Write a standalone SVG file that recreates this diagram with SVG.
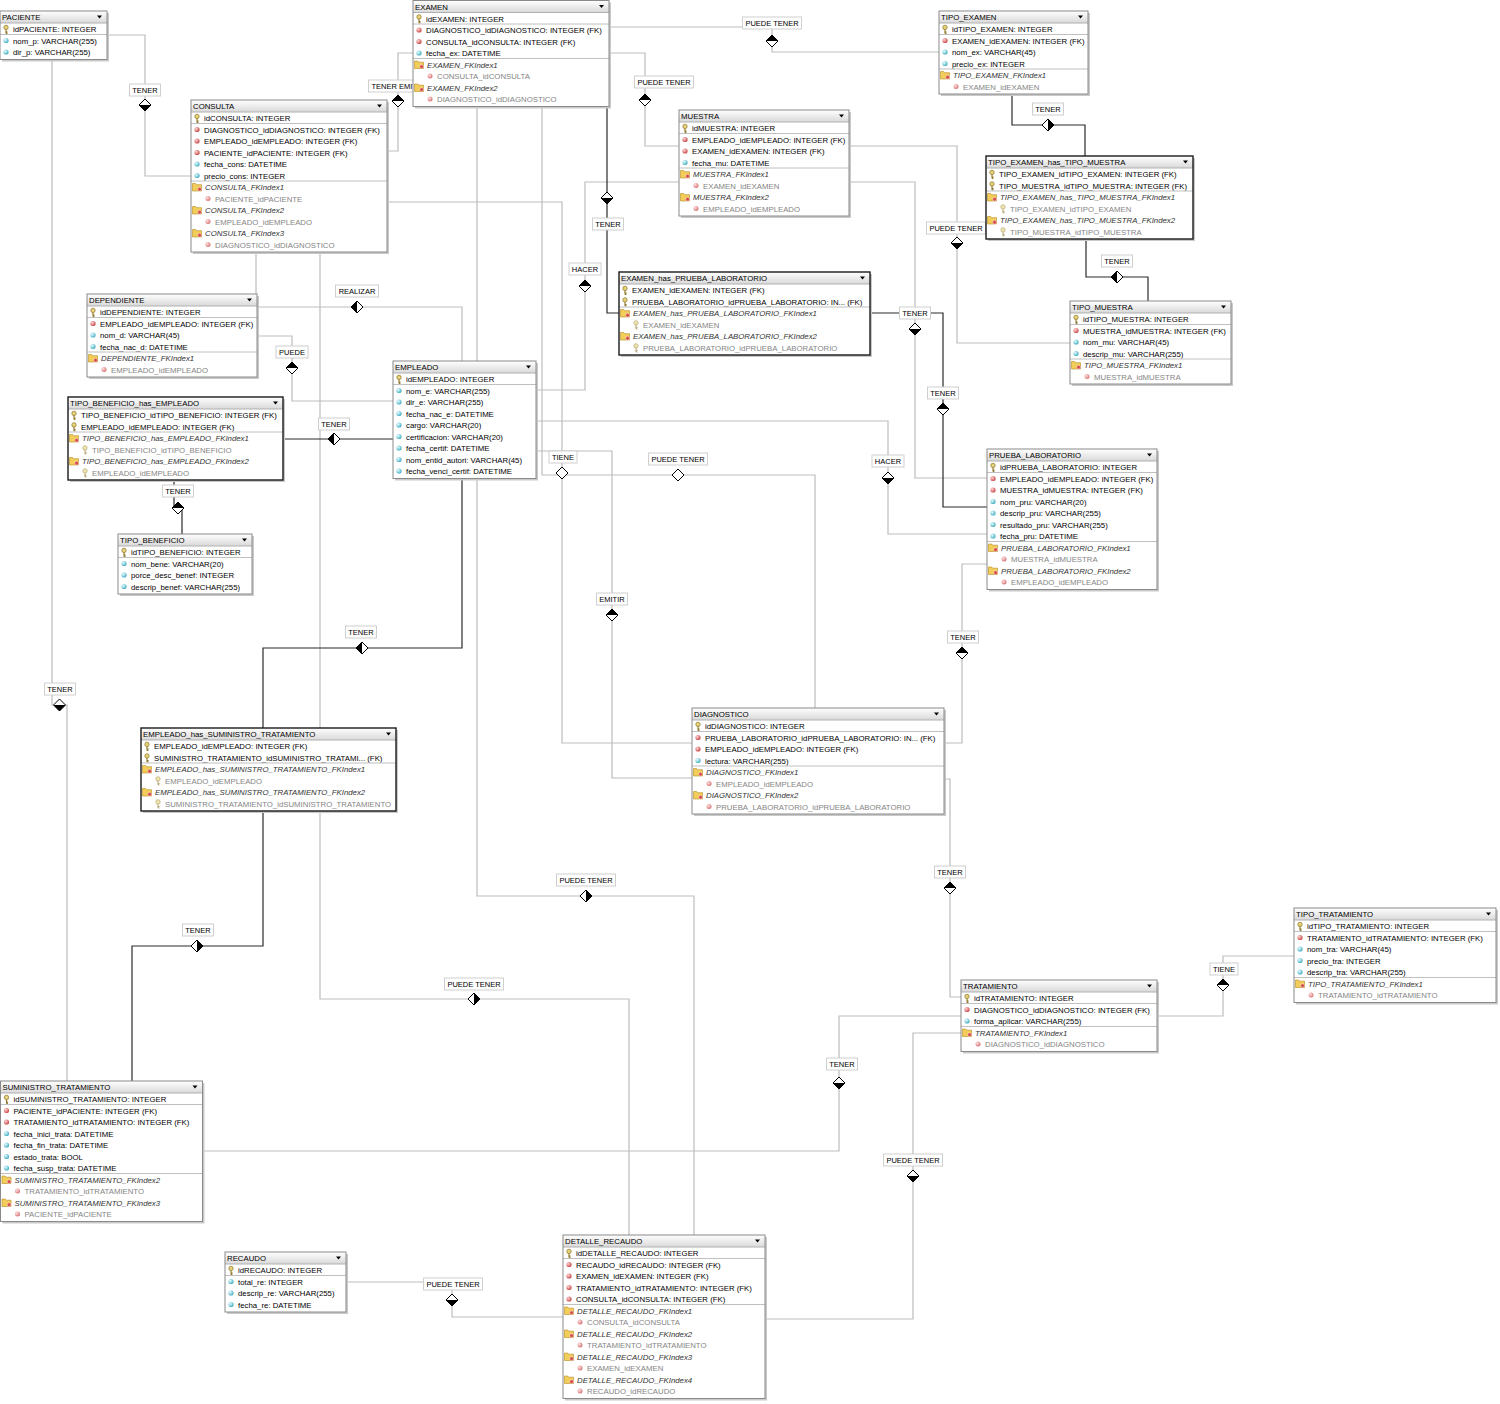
<svg xmlns="http://www.w3.org/2000/svg" width="1500" height="1404" viewBox="0 0 1500 1404">
<style>
text{font-family:"Liberation Sans",Arial,sans-serif;font-size:7.8px;fill:#000}
.ix{font-style:italic;fill:#333}
.ic{fill:#858585}
.lb{font-size:7.5px;text-anchor:middle}
.box{fill:#fff}
.bd{fill:none;stroke:#8a8a8a;stroke-width:1}
.dk .bd{stroke:#1a1a1a;stroke-width:1.4}
.sh{fill:#c9c9c9}
.hd{fill:url(#hg)}
.hl{stroke:#b0b0b0;stroke-width:1}
.sep{stroke:#c0c0c0;stroke-width:1}
.cl{fill:none;stroke:#bdbdbd;stroke-width:1.2}
.cd{fill:none;stroke:#2a2a2a;stroke-width:1.2}
.lbx{fill:#fff;stroke:#cfcfcf;stroke-width:1}
</style>
<defs>
<linearGradient id="hg" x1="0" y1="0" x2="0" y2="1"><stop offset="0" stop-color="#ffffff"/><stop offset="1" stop-color="#d9d9d9"/></linearGradient>
<radialGradient id="rg" cx=".35" cy=".35" r=".75"><stop offset="0" stop-color="#ffd6d6"/><stop offset="1" stop-color="#c43a3a"/></radialGradient>
<radialGradient id="cg" cx=".35" cy=".35" r=".75"><stop offset="0" stop-color="#e6ffff"/><stop offset="1" stop-color="#35a5bd"/></radialGradient>
<g id="k"><circle cy="-1.6" r="2.2" fill="#e6d27a" stroke="#8c7424" stroke-width=".7"/><path d="M0,.6V4.6M0,3H1.6M0,4.4H1.4" stroke="#8c7424" stroke-width="1.1" fill="none"/></g>
<circle id="f" r="2.6" fill="url(#rg)"/>
<circle id="fi" r="2.5" fill="url(#rg)" opacity=".75"/>
<circle id="a" r="2.6" fill="url(#cg)"/>
<g id="x"><path d="M-4.5,-3.5h3.2l1,1.2h4.8v6.3h-9z" fill="#f3cd5a" stroke="#b58a1e" stroke-width=".6"/><circle cx="2.6" cy="2.2" r="1.9" fill="#d84a4a" stroke="#fff" stroke-width=".4"/></g>
<g id="ki" opacity=".6"><circle cy="-1.6" r="2.2" fill="#e6d27a" stroke="#8c7424" stroke-width=".7"/><path d="M0,.6V4.6M0,3H1.6M0,4.4H1.4" stroke="#8c7424" stroke-width="1.1" fill="none"/></g>
<g id="dT"><path d="M0,-6L6,0L0,6L-6,0Z" fill="#fff" stroke="#000"/><path d="M-6,0L0,-6L6,0Z"/></g>
<g id="dB"><path d="M0,-6L6,0L0,6L-6,0Z" fill="#fff" stroke="#000"/><path d="M-6,0L0,6L6,0Z"/></g>
<g id="dL"><path d="M0,-6L6,0L0,6L-6,0Z" fill="#fff" stroke="#000"/><path d="M0,-6L-6,0L0,6Z"/></g>
<g id="dR"><path d="M0,-6L6,0L0,6L-6,0Z" fill="#fff" stroke="#000"/><path d="M0,-6L6,0L0,6Z"/></g>
<g id="dH"><path d="M0,-6L6,0L0,6L-6,0Z" fill="#fff" stroke="#000"/></g>
<clipPath id="clipEHS"><rect x="0" y="0" width="255" height="83"/></clipPath>
</defs>
<rect width="1500" height="1404" fill="#fff"/>

<g id="connectors">
<path class="cl" d="M107,35H145V176H191"/>
<path class="cl" d="M52,59V705H67V1081"/>
<path class="cl" d="M387,151H398V53H413"/>
<path class="cl" d="M609,27H772V52H939"/>
<path class="cl" d="M609,53H645V146H679"/>
<path class="cl" d="M849,146H957V343H1070"/>
<path class="cl" d="M849,182H915V478H987"/>
<path class="cl" d="M536,390H585V182H679"/>
<path class="cl" d="M536,421H888V534H987"/>
<path class="cl" d="M256,252V307H462V361"/>
<path class="cl" d="M257,336H292V401H393"/>
<path class="cl" d="M387,202H562V743H692"/>
<path class="cl" d="M542,106V475H815V708"/>
<path class="cl" d="M536,451H612V778H692"/>
<path class="cl" d="M987,564H962V743H944"/>
<path class="cl" d="M944,779H950V997H961"/>
<path class="cl" d="M1157,1016H1223V956H1294"/>
<path class="cl" d="M203,1151H839V1016H961"/>
<path class="cl" d="M765,1319H913V1033H961"/>
<path class="cl" d="M477,106V896H694V1235"/>
<path class="cl" d="M320,252V999H629V1235"/>
<path class="cl" d="M346,1282H452V1317H563"/>
<path class="cd" d="M1012,94V125H1085V156"/>
<path class="cd" d="M1086,239V277H1148V301"/>
<path class="cd" d="M607,106V313H619"/>
<path class="cd" d="M870,313H943V507H987"/>
<path class="cd" d="M283,439H393"/>
<path class="cd" d="M174,480V508H182V534"/>
<path class="cd" d="M462,479V648H263V728"/>
<path class="cd" d="M263,811V946H132V1081"/>

<use href="#dB" x="145" y="105"/>
<use href="#dB" x="59.5" y="705"/>
<use href="#dT" x="398" y="101"/>
<use href="#dT" x="772" y="41"/>
<use href="#dT" x="645" y="100"/>
<use href="#dB" x="957" y="243"/>
<use href="#dB" x="915" y="329"/>
<use href="#dT" x="585" y="286"/>
<use href="#dB" x="888" y="478"/>
<use href="#dL" x="357" y="307"/>
<use href="#dT" x="292" y="368"/>
<use href="#dH" x="562" y="473"/>
<use href="#dH" x="678" y="475"/>
<use href="#dT" x="612" y="615"/>
<use href="#dT" x="962" y="653"/>
<use href="#dT" x="950" y="888"/>
<use href="#dT" x="1223" y="985"/>
<use href="#dB" x="839" y="1083"/>
<use href="#dB" x="913" y="1176"/>
<use href="#dR" x="586" y="896"/>
<use href="#dR" x="474" y="999"/>
<use href="#dB" x="452" y="1300"/>
<use href="#dR" x="1048" y="125"/>
<use href="#dL" x="1117" y="277"/>
<use href="#dB" x="607" y="198"/>
<use href="#dT" x="943" y="409"/>
<use href="#dL" x="334" y="439"/>
<use href="#dT" x="178" y="508"/>
<use href="#dL" x="362" y="648"/>
<use href="#dR" x="197" y="946"/>

<rect class="lbx" x="129.5" y="84" width="31" height="12"/><text class="lb" x="145" y="93">TENER</text>
<rect class="lbx" x="368.5" y="80" width="59" height="12"/><text class="lb" x="398" y="89">TENER EMITIR</text>
<rect class="lbx" x="742.5" y="17" width="59" height="12"/><text class="lb" x="772" y="26">PUEDE TENER</text>
<rect class="lbx" x="634.5" y="76" width="59" height="12"/><text class="lb" x="664" y="85">PUEDE TENER</text>
<rect class="lbx" x="926.5" y="222" width="59" height="12"/><text class="lb" x="956" y="231">PUEDE TENER</text>
<rect class="lbx" x="899.5" y="307" width="31" height="12"/><text class="lb" x="915" y="316">TENER</text>
<rect class="lbx" x="569" y="263" width="32" height="12"/><text class="lb" x="585" y="272">HACER</text>
<rect class="lbx" x="872" y="455" width="32" height="12"/><text class="lb" x="888" y="464">HACER</text>
<rect class="lbx" x="335.5" y="285" width="43" height="12"/><text class="lb" x="357" y="294">REALIZAR</text>
<rect class="lbx" x="276" y="346" width="32" height="12"/><text class="lb" x="292" y="355">PUEDE</text>
<rect class="lbx" x="549" y="451" width="28" height="12"/><text class="lb" x="563" y="460">TIENE</text>
<rect class="lbx" x="648.5" y="453" width="59" height="12"/><text class="lb" x="678" y="462">PUEDE TENER</text>
<rect class="lbx" x="596.5" y="593" width="31" height="12"/><text class="lb" x="612" y="602">EMITIR</text>
<rect class="lbx" x="947.5" y="631" width="31" height="12"/><text class="lb" x="963" y="640">TENER</text>
<rect class="lbx" x="934.5" y="866" width="31" height="12"/><text class="lb" x="950" y="875">TENER</text>
<rect class="lbx" x="1210" y="963" width="28" height="12"/><text class="lb" x="1224" y="972">TIENE</text>
<rect class="lbx" x="826.5" y="1058" width="31" height="12"/><text class="lb" x="842" y="1067">TENER</text>
<rect class="lbx" x="883.5" y="1154" width="59" height="12"/><text class="lb" x="913" y="1163">PUEDE TENER</text>
<rect class="lbx" x="556.5" y="874" width="59" height="12"/><text class="lb" x="586" y="883">PUEDE TENER</text>
<rect class="lbx" x="444.5" y="978" width="59" height="12"/><text class="lb" x="474" y="987">PUEDE TENER</text>
<rect class="lbx" x="423.5" y="1278" width="59" height="12"/><text class="lb" x="453" y="1287">PUEDE TENER</text>
<rect class="lbx" x="1032.5" y="103" width="31" height="12"/><text class="lb" x="1048" y="112">TENER</text>
<rect class="lbx" x="1101.5" y="255" width="31" height="12"/><text class="lb" x="1117" y="264">TENER</text>
<rect class="lbx" x="592.5" y="218" width="31" height="12"/><text class="lb" x="608" y="227">TENER</text>
<rect class="lbx" x="927.5" y="387" width="31" height="12"/><text class="lb" x="943" y="396">TENER</text>
<rect class="lbx" x="318.5" y="418" width="31" height="12"/><text class="lb" x="334" y="427">TENER</text>
<rect class="lbx" x="162.5" y="485" width="31" height="12"/><text class="lb" x="178" y="494">TENER</text>
<rect class="lbx" x="345.5" y="626" width="31" height="12"/><text class="lb" x="361" y="635">TENER</text>
<rect class="lbx" x="182.5" y="924" width="31" height="12"/><text class="lb" x="198" y="933">TENER</text>
<rect class="lbx" x="44.5" y="683" width="31" height="12"/><text class="lb" x="60" y="692">TENER</text>
</g>

<g id="paciente" transform="translate(0,11)">
<rect class="sh" x="2" y="2" width="107" height="48.5"/><rect class="box" width="107" height="48.5"/><rect class="hd" width="107" height="12"/><line class="hl" x1="0" y1="12" x2="107" y2="12"/><text x="2" y="9">PACIENTE</text><path d="M97,4.5h5l-2.5,3z"/>
<use href="#k" x="6" y="18"/><text x="13" y="21">idPACIENTE: INTEGER</text>
<line class="sep" x1="0" y1="23.5" x2="107" y2="23.5"/>
<use href="#a" x="6" y="29.5"/><text x="13" y="32.5">nom_p: VARCHAR(255)</text>
<use href="#a" x="6" y="41"/><text x="13" y="44">dir_p: VARCHAR(255)</text>
<rect class="bd" width="107" height="48.5"/>
</g>

<g id="examen" transform="translate(413,0.5)">
<rect class="sh" x="2" y="2" width="196" height="106"/><rect class="box" width="196" height="106"/><rect class="hd" width="196" height="12"/><line class="hl" x1="0" y1="12" x2="196" y2="12"/><text x="2" y="9">EXAMEN</text><path d="M186,4.5h5l-2.5,3z"/>
<use href="#k" x="6" y="18"/><text x="13" y="21">idEXAMEN: INTEGER</text>
<line class="sep" x1="0" y1="23.5" x2="196" y2="23.5"/>
<use href="#f" x="6" y="29.5"/><text x="13" y="32.5">DIAGNOSTICO_idDIAGNOSTICO: INTEGER (FK)</text>
<use href="#f" x="6" y="41"/><text x="13" y="44">CONSULTA_idCONSULTA: INTEGER (FK)</text>
<use href="#a" x="6" y="52.5"/><text x="13" y="55.5">fecha_ex: DATETIME</text>
<line class="sep" x1="0" y1="58" x2="196" y2="58"/>
<use href="#x" x="6" y="64"/><text class="ix" x="14" y="67">EXAMEN_FKIndex1</text>
<use href="#fi" x="17" y="75.5"/><text class="ic" x="24" y="78.5">CONSULTA_idCONSULTA</text>
<use href="#x" x="6" y="87"/><text class="ix" x="14" y="90">EXAMEN_FKIndex2</text>
<use href="#fi" x="17" y="98.5"/><text class="ic" x="24" y="101.5">DIAGNOSTICO_idDIAGNOSTICO</text>
<rect class="bd" width="196" height="106"/>
</g>

<g id="tipo_examen" transform="translate(939,11)">
<rect class="sh" x="2" y="2" width="149" height="83"/><rect class="box" width="149" height="83"/><rect class="hd" width="149" height="12"/><line class="hl" x1="0" y1="12" x2="149" y2="12"/><text x="2" y="9">TIPO_EXAMEN</text><path d="M139,4.5h5l-2.5,3z"/>
<use href="#k" x="6" y="18"/><text x="13" y="21">idTIPO_EXAMEN: INTEGER</text>
<line class="sep" x1="0" y1="23.5" x2="149" y2="23.5"/>
<use href="#f" x="6" y="29.5"/><text x="13" y="32.5">EXAMEN_idEXAMEN: INTEGER (FK)</text>
<use href="#a" x="6" y="41"/><text x="13" y="44">nom_ex: VARCHAR(45)</text>
<use href="#a" x="6" y="52.5"/><text x="13" y="55.5">precio_ex: INTEGER</text>
<line class="sep" x1="0" y1="58" x2="149" y2="58"/>
<use href="#x" x="6" y="64"/><text class="ix" x="14" y="67">TIPO_EXAMEN_FKIndex1</text>
<use href="#fi" x="17" y="75.5"/><text class="ic" x="24" y="78.5">EXAMEN_idEXAMEN</text>
<rect class="bd" width="149" height="83"/>
</g>

<g id="consulta" transform="translate(191,100)">
<rect class="sh" x="2" y="2" width="196" height="152"/><rect class="box" width="196" height="152"/><rect class="hd" width="196" height="12"/><line class="hl" x1="0" y1="12" x2="196" y2="12"/><text x="2" y="9">CONSULTA</text><path d="M186,4.5h5l-2.5,3z"/>
<use href="#k" x="6" y="18"/><text x="13" y="21">idCONSULTA: INTEGER</text>
<line class="sep" x1="0" y1="23.5" x2="196" y2="23.5"/>
<use href="#f" x="6" y="29.5"/><text x="13" y="32.5">DIAGNOSTICO_idDIAGNOSTICO: INTEGER (FK)</text>
<use href="#f" x="6" y="41"/><text x="13" y="44">EMPLEADO_idEMPLEADO: INTEGER (FK)</text>
<use href="#f" x="6" y="52.5"/><text x="13" y="55.5">PACIENTE_idPACIENTE: INTEGER (FK)</text>
<use href="#a" x="6" y="64"/><text x="13" y="67">fecha_cons: DATETIME</text>
<use href="#a" x="6" y="75.5"/><text x="13" y="78.5">precio_cons: INTEGER</text>
<line class="sep" x1="0" y1="81" x2="196" y2="81"/>
<use href="#x" x="6" y="87"/><text class="ix" x="14" y="90">CONSULTA_FKIndex1</text>
<use href="#fi" x="17" y="98.5"/><text class="ic" x="24" y="101.5">PACIENTE_idPACIENTE</text>
<use href="#x" x="6" y="110"/><text class="ix" x="14" y="113">CONSULTA_FKIndex2</text>
<use href="#fi" x="17" y="121.5"/><text class="ic" x="24" y="124.5">EMPLEADO_idEMPLEADO</text>
<use href="#x" x="6" y="133"/><text class="ix" x="14" y="136">CONSULTA_FKIndex3</text>
<use href="#fi" x="17" y="144.5"/><text class="ic" x="24" y="147.5">DIAGNOSTICO_idDIAGNOSTICO</text>
<rect class="bd" width="196" height="152"/>
</g>

<g id="muestra" transform="translate(679,110)">
<rect class="sh" x="2" y="2" width="170" height="106"/><rect class="box" width="170" height="106"/><rect class="hd" width="170" height="12"/><line class="hl" x1="0" y1="12" x2="170" y2="12"/><text x="2" y="9">MUESTRA</text><path d="M160,4.5h5l-2.5,3z"/>
<use href="#k" x="6" y="18"/><text x="13" y="21">idMUESTRA: INTEGER</text>
<line class="sep" x1="0" y1="23.5" x2="170" y2="23.5"/>
<use href="#f" x="6" y="29.5"/><text x="13" y="32.5">EMPLEADO_idEMPLEADO: INTEGER (FK)</text>
<use href="#f" x="6" y="41"/><text x="13" y="44">EXAMEN_idEXAMEN: INTEGER (FK)</text>
<use href="#a" x="6" y="52.5"/><text x="13" y="55.5">fecha_mu: DATETIME</text>
<line class="sep" x1="0" y1="58" x2="170" y2="58"/>
<use href="#x" x="6" y="64"/><text class="ix" x="14" y="67">MUESTRA_FKIndex1</text>
<use href="#fi" x="17" y="75.5"/><text class="ic" x="24" y="78.5">EXAMEN_idEXAMEN</text>
<use href="#x" x="6" y="87"/><text class="ix" x="14" y="90">MUESTRA_FKIndex2</text>
<use href="#fi" x="17" y="98.5"/><text class="ic" x="24" y="101.5">EMPLEADO_idEMPLEADO</text>
<rect class="bd" width="170" height="106"/>
</g>

<g id="tipo_examen_has_tipo_muestra" class="dk" transform="translate(986,156)">
<rect class="sh" x="2" y="2" width="207" height="83"/><rect class="box" width="207" height="83"/><rect class="hd" width="207" height="12"/><line class="hl" x1="0" y1="12" x2="207" y2="12"/><text x="2" y="9">TIPO_EXAMEN_has_TIPO_MUESTRA</text><path d="M197,4.5h5l-2.5,3z"/>
<use href="#k" x="6" y="18"/><text x="13" y="21">TIPO_EXAMEN_idTIPO_EXAMEN: INTEGER (FK)</text>
<use href="#k" x="6" y="29.5"/><text x="13" y="32.5">TIPO_MUESTRA_idTIPO_MUESTRA: INTEGER (FK)</text>
<line class="sep" x1="0" y1="35" x2="207" y2="35"/>
<use href="#x" x="6" y="41"/><text class="ix" x="14" y="44">TIPO_EXAMEN_has_TIPO_MUESTRA_FKIndex1</text>
<use href="#ki" x="17" y="52.5"/><text class="ic" x="24" y="55.5">TIPO_EXAMEN_idTIPO_EXAMEN</text>
<use href="#x" x="6" y="64"/><text class="ix" x="14" y="67">TIPO_EXAMEN_has_TIPO_MUESTRA_FKIndex2</text>
<use href="#ki" x="17" y="75.5"/><text class="ic" x="24" y="78.5">TIPO_MUESTRA_idTIPO_MUESTRA</text>
<rect class="bd" width="207" height="83"/>
</g>

<g id="dependiente" transform="translate(87,294)">
<rect class="sh" x="2" y="2" width="170" height="83"/><rect class="box" width="170" height="83"/><rect class="hd" width="170" height="12"/><line class="hl" x1="0" y1="12" x2="170" y2="12"/><text x="2" y="9">DEPENDIENTE</text><path d="M160,4.5h5l-2.5,3z"/>
<use href="#k" x="6" y="18"/><text x="13" y="21">idDEPENDIENTE: INTEGER</text>
<line class="sep" x1="0" y1="23.5" x2="170" y2="23.5"/>
<use href="#f" x="6" y="29.5"/><text x="13" y="32.5">EMPLEADO_idEMPLEADO: INTEGER (FK)</text>
<use href="#a" x="6" y="41"/><text x="13" y="44">nom_d: VARCHAR(45)</text>
<use href="#a" x="6" y="52.5"/><text x="13" y="55.5">fecha_nac_d: DATETIME</text>
<line class="sep" x1="0" y1="58" x2="170" y2="58"/>
<use href="#x" x="6" y="64"/><text class="ix" x="14" y="67">DEPENDIENTE_FKIndex1</text>
<use href="#fi" x="17" y="75.5"/><text class="ic" x="24" y="78.5">EMPLEADO_idEMPLEADO</text>
<rect class="bd" width="170" height="83"/>
</g>

<g id="tipo_beneficio_has_empleado" class="dk" transform="translate(68,397)">
<rect class="sh" x="2" y="2" width="215" height="83"/><rect class="box" width="215" height="83"/><rect class="hd" width="215" height="12"/><line class="hl" x1="0" y1="12" x2="215" y2="12"/><text x="2" y="9">TIPO_BENEFICIO_has_EMPLEADO</text><path d="M205,4.5h5l-2.5,3z"/>
<use href="#k" x="6" y="18"/><text x="13" y="21">TIPO_BENEFICIO_idTIPO_BENEFICIO: INTEGER (FK)</text>
<use href="#k" x="6" y="29.5"/><text x="13" y="32.5">EMPLEADO_idEMPLEADO: INTEGER (FK)</text>
<line class="sep" x1="0" y1="35" x2="215" y2="35"/>
<use href="#x" x="6" y="41"/><text class="ix" x="14" y="44">TIPO_BENEFICIO_has_EMPLEADO_FKIndex1</text>
<use href="#ki" x="17" y="52.5"/><text class="ic" x="24" y="55.5">TIPO_BENEFICIO_idTIPO_BENEFICIO</text>
<use href="#x" x="6" y="64"/><text class="ix" x="14" y="67">TIPO_BENEFICIO_has_EMPLEADO_FKIndex2</text>
<use href="#ki" x="17" y="75.5"/><text class="ic" x="24" y="78.5">EMPLEADO_idEMPLEADO</text>
<rect class="bd" width="215" height="83"/>
</g>

<g id="tipo_beneficio" transform="translate(118,534)">
<rect class="sh" x="2" y="2" width="134" height="60"/><rect class="box" width="134" height="60"/><rect class="hd" width="134" height="12"/><line class="hl" x1="0" y1="12" x2="134" y2="12"/><text x="2" y="9">TIPO_BENEFICIO</text><path d="M124,4.5h5l-2.5,3z"/>
<use href="#k" x="6" y="18"/><text x="13" y="21">idTIPO_BENEFICIO: INTEGER</text>
<line class="sep" x1="0" y1="23.5" x2="134" y2="23.5"/>
<use href="#a" x="6" y="29.5"/><text x="13" y="32.5">nom_bene: VARCHAR(20)</text>
<use href="#a" x="6" y="41"/><text x="13" y="44">porce_desc_benef: INTEGER</text>
<use href="#a" x="6" y="52.5"/><text x="13" y="55.5">descrip_benef: VARCHAR(255)</text>
<rect class="bd" width="134" height="60"/>
</g>

<g id="empleado" transform="translate(393,361)">
<rect class="sh" x="2" y="2" width="143" height="117.5"/><rect class="box" width="143" height="117.5"/><rect class="hd" width="143" height="12"/><line class="hl" x1="0" y1="12" x2="143" y2="12"/><text x="2" y="9">EMPLEADO</text><path d="M133,4.5h5l-2.5,3z"/>
<use href="#k" x="6" y="18"/><text x="13" y="21">idEMPLEADO: INTEGER</text>
<line class="sep" x1="0" y1="23.5" x2="143" y2="23.5"/>
<use href="#a" x="6" y="29.5"/><text x="13" y="32.5">nom_e: VARCHAR(255)</text>
<use href="#a" x="6" y="41"/><text x="13" y="44">dir_e: VARCHAR(255)</text>
<use href="#a" x="6" y="52.5"/><text x="13" y="55.5">fecha_nac_e: DATETIME</text>
<use href="#a" x="6" y="64"/><text x="13" y="67">cargo: VARCHAR(20)</text>
<use href="#a" x="6" y="75.5"/><text x="13" y="78.5">certificacion: VARCHAR(20)</text>
<use href="#a" x="6" y="87"/><text x="13" y="90">fecha_certif: DATETIME</text>
<use href="#a" x="6" y="98.5"/><text x="13" y="101.5">nom_entid_autori: VARCHAR(45)</text>
<use href="#a" x="6" y="110"/><text x="13" y="113">fecha_venci_certif: DATETIME</text>
<rect class="bd" width="143" height="117.5"/>
</g>

<g id="examen_has_prueba_laboratorio" class="dk" transform="translate(619,272)">
<rect class="sh" x="2" y="2" width="251" height="83"/><rect class="box" width="251" height="83"/><rect class="hd" width="251" height="12"/><line class="hl" x1="0" y1="12" x2="251" y2="12"/><text x="2" y="9">EXAMEN_has_PRUEBA_LABORATORIO</text><path d="M241,4.5h5l-2.5,3z"/>
<use href="#k" x="6" y="18"/><text x="13" y="21">EXAMEN_idEXAMEN: INTEGER (FK)</text>
<use href="#k" x="6" y="29.5"/><text x="13" y="32.5">PRUEBA_LABORATORIO_idPRUEBA_LABORATORIO: IN... (FK)</text>
<line class="sep" x1="0" y1="35" x2="251" y2="35"/>
<use href="#x" x="6" y="41"/><text class="ix" x="14" y="44">EXAMEN_has_PRUEBA_LABORATORIO_FKIndex1</text>
<use href="#ki" x="17" y="52.5"/><text class="ic" x="24" y="55.5">EXAMEN_idEXAMEN</text>
<use href="#x" x="6" y="64"/><text class="ix" x="14" y="67">EXAMEN_has_PRUEBA_LABORATORIO_FKIndex2</text>
<use href="#ki" x="17" y="75.5"/><text class="ic" x="24" y="78.5">PRUEBA_LABORATORIO_idPRUEBA_LABORATORIO</text>
<rect class="bd" width="251" height="83"/>
</g>

<g id="tipo_muestra" transform="translate(1070,301)">
<rect class="sh" x="2" y="2" width="161" height="83"/><rect class="box" width="161" height="83"/><rect class="hd" width="161" height="12"/><line class="hl" x1="0" y1="12" x2="161" y2="12"/><text x="2" y="9">TIPO_MUESTRA</text><path d="M151,4.5h5l-2.5,3z"/>
<use href="#k" x="6" y="18"/><text x="13" y="21">idTIPO_MUESTRA: INTEGER</text>
<line class="sep" x1="0" y1="23.5" x2="161" y2="23.5"/>
<use href="#f" x="6" y="29.5"/><text x="13" y="32.5">MUESTRA_idMUESTRA: INTEGER (FK)</text>
<use href="#a" x="6" y="41"/><text x="13" y="44">nom_mu: VARCHAR(45)</text>
<use href="#a" x="6" y="52.5"/><text x="13" y="55.5">descrip_mu: VARCHAR(255)</text>
<line class="sep" x1="0" y1="58" x2="161" y2="58"/>
<use href="#x" x="6" y="64"/><text class="ix" x="14" y="67">TIPO_MUESTRA_FKIndex1</text>
<use href="#fi" x="17" y="75.5"/><text class="ic" x="24" y="78.5">MUESTRA_idMUESTRA</text>
<rect class="bd" width="161" height="83"/>
</g>

<g id="prueba_laboratorio" transform="translate(987,449)">
<rect class="sh" x="2" y="2" width="170" height="140.5"/><rect class="box" width="170" height="140.5"/><rect class="hd" width="170" height="12"/><line class="hl" x1="0" y1="12" x2="170" y2="12"/><text x="2" y="9">PRUEBA_LABORATORIO</text><path d="M160,4.5h5l-2.5,3z"/>
<use href="#k" x="6" y="18"/><text x="13" y="21">idPRUEBA_LABORATORIO: INTEGER</text>
<line class="sep" x1="0" y1="23.5" x2="170" y2="23.5"/>
<use href="#f" x="6" y="29.5"/><text x="13" y="32.5">EMPLEADO_idEMPLEADO: INTEGER (FK)</text>
<use href="#f" x="6" y="41"/><text x="13" y="44">MUESTRA_idMUESTRA: INTEGER (FK)</text>
<use href="#a" x="6" y="52.5"/><text x="13" y="55.5">nom_pru: VARCHAR(20)</text>
<use href="#a" x="6" y="64"/><text x="13" y="67">descrip_pru: VARCHAR(255)</text>
<use href="#a" x="6" y="75.5"/><text x="13" y="78.5">resultado_pru: VARCHAR(255)</text>
<use href="#a" x="6" y="87"/><text x="13" y="90">fecha_pru: DATETIME</text>
<line class="sep" x1="0" y1="92.5" x2="170" y2="92.5"/>
<use href="#x" x="6" y="98.5"/><text class="ix" x="14" y="101.5">PRUEBA_LABORATORIO_FKIndex1</text>
<use href="#fi" x="17" y="110"/><text class="ic" x="24" y="113">MUESTRA_idMUESTRA</text>
<use href="#x" x="6" y="121.5"/><text class="ix" x="14" y="124.5">PRUEBA_LABORATORIO_FKIndex2</text>
<use href="#fi" x="17" y="133"/><text class="ic" x="24" y="136">EMPLEADO_idEMPLEADO</text>
<rect class="bd" width="170" height="140.5"/>
</g>

<g id="empleado_has_suministro_tratamiento" class="dk" transform="translate(141,728)">
<rect class="sh" x="2" y="2" width="255" height="83"/><rect class="box" width="255" height="83"/><rect class="hd" width="255" height="12"/><line class="hl" x1="0" y1="12" x2="255" y2="12"/><text x="2" y="9">EMPLEADO_has_SUMINISTRO_TRATAMIENTO</text><path d="M245,4.5h5l-2.5,3z"/>
<use href="#k" x="6" y="18"/><text x="13" y="21">EMPLEADO_idEMPLEADO: INTEGER (FK)</text>
<use href="#k" x="6" y="29.5"/><text x="13" y="32.5">SUMINISTRO_TRATAMIENTO_idSUMINISTRO_TRATAMI... (FK)</text>
<line class="sep" x1="0" y1="35" x2="255" y2="35"/>
<use href="#x" x="6" y="41"/><text class="ix" x="14" y="44">EMPLEADO_has_SUMINISTRO_TRATAMIENTO_FKIndex1</text>
<use href="#ki" x="17" y="52.5"/><text class="ic" x="24" y="55.5">EMPLEADO_idEMPLEADO</text>
<use href="#x" x="6" y="64"/><text class="ix" x="14" y="67">EMPLEADO_has_SUMINISTRO_TRATAMIENTO_FKIndex2</text>
<use href="#ki" x="17" y="75.5"/><text class="ic" x="24" y="78.5" clip-path="url(#clipEHS)">SUMINISTRO_TRATAMIENTO_idSUMINISTRO_TRATAMIENTO</text>
<rect class="bd" width="255" height="83"/>
</g>

<g id="diagnostico" transform="translate(692,708)">
<rect class="sh" x="2" y="2" width="252" height="106"/><rect class="box" width="252" height="106"/><rect class="hd" width="252" height="12"/><line class="hl" x1="0" y1="12" x2="252" y2="12"/><text x="2" y="9">DIAGNOSTICO</text><path d="M242,4.5h5l-2.5,3z"/>
<use href="#k" x="6" y="18"/><text x="13" y="21">idDIAGNOSTICO: INTEGER</text>
<line class="sep" x1="0" y1="23.5" x2="252" y2="23.5"/>
<use href="#f" x="6" y="29.5"/><text x="13" y="32.5">PRUEBA_LABORATORIO_idPRUEBA_LABORATORIO: IN... (FK)</text>
<use href="#f" x="6" y="41"/><text x="13" y="44">EMPLEADO_idEMPLEADO: INTEGER (FK)</text>
<use href="#a" x="6" y="52.5"/><text x="13" y="55.5">lectura: VARCHAR(255)</text>
<line class="sep" x1="0" y1="58" x2="252" y2="58"/>
<use href="#x" x="6" y="64"/><text class="ix" x="14" y="67">DIAGNOSTICO_FKIndex1</text>
<use href="#fi" x="17" y="75.5"/><text class="ic" x="24" y="78.5">EMPLEADO_idEMPLEADO</text>
<use href="#x" x="6" y="87"/><text class="ix" x="14" y="90">DIAGNOSTICO_FKIndex2</text>
<use href="#fi" x="17" y="98.5"/><text class="ic" x="24" y="101.5">PRUEBA_LABORATORIO_idPRUEBA_LABORATORIO</text>
<rect class="bd" width="252" height="106"/>
</g>

<g id="tipo_tratamiento" transform="translate(1294,908)">
<rect class="sh" x="2" y="2" width="202" height="94.5"/><rect class="box" width="202" height="94.5"/><rect class="hd" width="202" height="12"/><line class="hl" x1="0" y1="12" x2="202" y2="12"/><text x="2" y="9">TIPO_TRATAMIENTO</text><path d="M192,4.5h5l-2.5,3z"/>
<use href="#k" x="6" y="18"/><text x="13" y="21">idTIPO_TRATAMIENTO: INTEGER</text>
<line class="sep" x1="0" y1="23.5" x2="202" y2="23.5"/>
<use href="#f" x="6" y="29.5"/><text x="13" y="32.5">TRATAMIENTO_idTRATAMIENTO: INTEGER (FK)</text>
<use href="#a" x="6" y="41"/><text x="13" y="44">nom_tra: VARCHAR(45)</text>
<use href="#a" x="6" y="52.5"/><text x="13" y="55.5">precio_tra: INTEGER</text>
<use href="#a" x="6" y="64"/><text x="13" y="67">descrip_tra: VARCHAR(255)</text>
<line class="sep" x1="0" y1="69.5" x2="202" y2="69.5"/>
<use href="#x" x="6" y="75.5"/><text class="ix" x="14" y="78.5">TIPO_TRATAMIENTO_FKIndex1</text>
<use href="#fi" x="17" y="87"/><text class="ic" x="24" y="90">TRATAMIENTO_idTRATAMIENTO</text>
<rect class="bd" width="202" height="94.5"/>
</g>

<g id="tratamiento" transform="translate(961,980)">
<rect class="sh" x="2" y="2" width="196" height="71.5"/><rect class="box" width="196" height="71.5"/><rect class="hd" width="196" height="12"/><line class="hl" x1="0" y1="12" x2="196" y2="12"/><text x="2" y="9">TRATAMIENTO</text><path d="M186,4.5h5l-2.5,3z"/>
<use href="#k" x="6" y="18"/><text x="13" y="21">idTRATAMIENTO: INTEGER</text>
<line class="sep" x1="0" y1="23.5" x2="196" y2="23.5"/>
<use href="#f" x="6" y="29.5"/><text x="13" y="32.5">DIAGNOSTICO_idDIAGNOSTICO: INTEGER (FK)</text>
<use href="#a" x="6" y="41"/><text x="13" y="44">forma_aplicar: VARCHAR(255)</text>
<line class="sep" x1="0" y1="46.5" x2="196" y2="46.5"/>
<use href="#x" x="6" y="52.5"/><text class="ix" x="14" y="55.5">TRATAMIENTO_FKIndex1</text>
<use href="#fi" x="17" y="64"/><text class="ic" x="24" y="67">DIAGNOSTICO_idDIAGNOSTICO</text>
<rect class="bd" width="196" height="71.5"/>
</g>

<g id="suministro_tratamiento" transform="translate(0.5,1081)">
<rect class="sh" x="2" y="2" width="202" height="140.5"/><rect class="box" width="202" height="140.5"/><rect class="hd" width="202" height="12"/><line class="hl" x1="0" y1="12" x2="202" y2="12"/><text x="2" y="9">SUMINISTRO_TRATAMIENTO</text><path d="M192,4.5h5l-2.5,3z"/>
<use href="#k" x="6" y="18"/><text x="13" y="21">idSUMINISTRO_TRATAMIENTO: INTEGER</text>
<line class="sep" x1="0" y1="23.5" x2="202" y2="23.5"/>
<use href="#f" x="6" y="29.5"/><text x="13" y="32.5">PACIENTE_idPACIENTE: INTEGER (FK)</text>
<use href="#f" x="6" y="41"/><text x="13" y="44">TRATAMIENTO_idTRATAMIENTO: INTEGER (FK)</text>
<use href="#a" x="6" y="52.5"/><text x="13" y="55.5">fecha_inici_trata: DATETIME</text>
<use href="#a" x="6" y="64"/><text x="13" y="67">fecha_fin_trata: DATETIME</text>
<use href="#a" x="6" y="75.5"/><text x="13" y="78.5">estado_trata: BOOL</text>
<use href="#a" x="6" y="87"/><text x="13" y="90">fecha_susp_trata: DATETIME</text>
<line class="sep" x1="0" y1="92.5" x2="202" y2="92.5"/>
<use href="#x" x="6" y="98.5"/><text class="ix" x="14" y="101.5">SUMINISTRO_TRATAMIENTO_FKIndex2</text>
<use href="#fi" x="17" y="110"/><text class="ic" x="24" y="113">TRATAMIENTO_idTRATAMIENTO</text>
<use href="#x" x="6" y="121.5"/><text class="ix" x="14" y="124.5">SUMINISTRO_TRATAMIENTO_FKIndex3</text>
<use href="#fi" x="17" y="133"/><text class="ic" x="24" y="136">PACIENTE_idPACIENTE</text>
<rect class="bd" width="202" height="140.5"/>
</g>

<g id="detalle_recaudo" transform="translate(563,1235)">
<rect class="sh" x="2" y="2" width="202" height="163.5"/><rect class="box" width="202" height="163.5"/><rect class="hd" width="202" height="12"/><line class="hl" x1="0" y1="12" x2="202" y2="12"/><text x="2" y="9">DETALLE_RECAUDO</text><path d="M192,4.5h5l-2.5,3z"/>
<use href="#k" x="6" y="18"/><text x="13" y="21">idDETALLE_RECAUDO: INTEGER</text>
<line class="sep" x1="0" y1="23.5" x2="202" y2="23.5"/>
<use href="#f" x="6" y="29.5"/><text x="13" y="32.5">RECAUDO_idRECAUDO: INTEGER (FK)</text>
<use href="#f" x="6" y="41"/><text x="13" y="44">EXAMEN_idEXAMEN: INTEGER (FK)</text>
<use href="#f" x="6" y="52.5"/><text x="13" y="55.5">TRATAMIENTO_idTRATAMIENTO: INTEGER (FK)</text>
<use href="#f" x="6" y="64"/><text x="13" y="67">CONSULTA_idCONSULTA: INTEGER (FK)</text>
<line class="sep" x1="0" y1="69.5" x2="202" y2="69.5"/>
<use href="#x" x="6" y="75.5"/><text class="ix" x="14" y="78.5">DETALLE_RECAUDO_FKIndex1</text>
<use href="#fi" x="17" y="87"/><text class="ic" x="24" y="90">CONSULTA_idCONSULTA</text>
<use href="#x" x="6" y="98.5"/><text class="ix" x="14" y="101.5">DETALLE_RECAUDO_FKIndex2</text>
<use href="#fi" x="17" y="110"/><text class="ic" x="24" y="113">TRATAMIENTO_idTRATAMIENTO</text>
<use href="#x" x="6" y="121.5"/><text class="ix" x="14" y="124.5">DETALLE_RECAUDO_FKIndex3</text>
<use href="#fi" x="17" y="133"/><text class="ic" x="24" y="136">EXAMEN_idEXAMEN</text>
<use href="#x" x="6" y="144.5"/><text class="ix" x="14" y="147.5">DETALLE_RECAUDO_FKIndex4</text>
<use href="#fi" x="17" y="156"/><text class="ic" x="24" y="159">RECAUDO_idRECAUDO</text>
<rect class="bd" width="202" height="163.5"/>
</g>

<g id="recaudo" transform="translate(225,1252)">
<rect class="sh" x="2" y="2" width="121" height="60"/><rect class="box" width="121" height="60"/><rect class="hd" width="121" height="12"/><line class="hl" x1="0" y1="12" x2="121" y2="12"/><text x="2" y="9">RECAUDO</text><path d="M111,4.5h5l-2.5,3z"/>
<use href="#k" x="6" y="18"/><text x="13" y="21">idRECAUDO: INTEGER</text>
<line class="sep" x1="0" y1="23.5" x2="121" y2="23.5"/>
<use href="#a" x="6" y="29.5"/><text x="13" y="32.5">total_re: INTEGER</text>
<use href="#a" x="6" y="41"/><text x="13" y="44">descrip_re: VARCHAR(255)</text>
<use href="#a" x="6" y="52.5"/><text x="13" y="55.5">fecha_re: DATETIME</text>
<rect class="bd" width="121" height="60"/>
</g>
</svg>
